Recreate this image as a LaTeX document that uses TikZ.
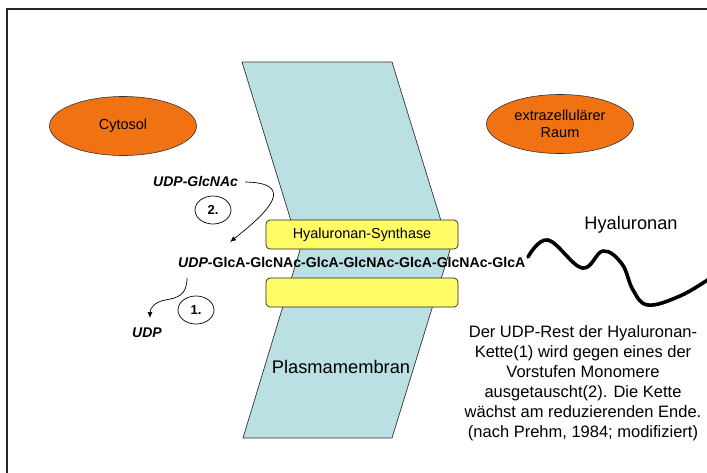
\documentclass[tikz,border=0pt]{standalone}
\usepackage{fontspec}
\setmainfont{Liberation Sans}
\usetikzlibrary{arrows.meta,shapes.geometric}
\definecolor{orangec}{RGB}{240,114,18}
\definecolor{yellowc}{RGB}{255,252,102}
\definecolor{membc}{RGB}{187,224,227}
\tikzset{
  region/.style={ellipse, draw=black!80, line width=0.6pt, fill=orangec, minimum width=147pt, minimum height=59pt, inner sep=0pt, align=center, font=\fontsize{14.5}{16.5}\selectfont},
  synth/.style={draw=black!85, line width=0.7pt, fill=yellowc, rounded corners=4pt, minimum width=192pt, minimum height=29pt, inner sep=0pt, font=\fontsize{14.4}{16}\selectfont},
  num/.style={ellipse, draw, line width=0.7pt, minimum width=36pt, minimum height=28pt, inner sep=0pt, font=\bfseries\fontsize{13}{13}\selectfont},
  bolditem/.style={inner sep=0pt, font=\bfseries\itshape\fontsize{14}{14}\selectfont},
  arr/.style={line width=0.7pt, -{Latex[length=6pt,width=5pt]}},
  wave/.style={line width=3.6pt, line cap=round, line join=round}
}
\begin{document}
\begin{tikzpicture}[x=1pt,y=-1pt]
\useasboundingbox (0,0) rectangle (707,472);
\fill[white] (0,0) rectangle (707,472);
% frame
\draw[line width=2.2pt, black!85] (7,9) rectangle (720,490);
% membrane
\filldraw[fill=membc, draw=black!80, line width=0.7pt] (242,62) -- (392,62) -- (450,250) -- (392,438) -- (243,438) -- (300,250) -- cycle;
% regions
\node[region] (cyt) at (123,126) {Cytosol};
\node[region] (extra) at (560,124) {extrazellulärer\\Raum};
% synthase boxes
\node[synth] (syn) at (362,234.5) {Hyaluronan-Synthase};
\node[synth] (synb) at (362,292.5) {};
% labels
\node[font=\fontsize{18.3}{20}\selectfont, inner sep=0pt] (plasma) at (341,367) {Plasmamembran};
\node[font=\fontsize{18.2}{20}\selectfont, inner sep=0pt] (hyal) at (631,225) {Hyaluronan};
% chain
\node[anchor=base west, inner sep=0pt, font=\bfseries\fontsize{14.1}{14}\selectfont] (chain) at (178,267) {\textit{UDP}-GlcA-GlcNAc-GlcA-GlcNAc-GlcA-GlcNAc-GlcA};
\node[bolditem, anchor=base west] (glcnac) at (153,186) {UDP-GlcNAc};
\node[bolditem, anchor=base west] (udp) at (132,337) {UDP};
% step numbers
\node[num] (n2) at (213,210) {2.};
\node[num] (n1) at (196,310) {1.};
% arrows
\coordinate (t2) at (230,242);
\coordinate (s1) at (187,278);
\coordinate (t1) at (150,318);
\draw[arr] ([xshift=7pt,yshift=-1pt]glcnac.east) .. controls (305,183) and (255,222) .. (t2);
\draw[arr] (s1) .. controls (187,295) and (178,298) .. (165,300) .. controls (155,302) and (150,308) .. (t1);
% hyaluronan chain
\draw[wave] plot[smooth, tension=0.65] coordinates {(528,257) (548,240) (582,268) (603,251) (622,264) (633,290) (648,305) (680,296) (709,279)};
% note
\node[align=center, inner sep=0pt, font=\fontsize{16.5}{20}\selectfont] (note) at (583,383) {Der UDP-Rest der Hyaluronan-\\Kette(1) wird gegen eines der\\Vorstufen Monomere\\ausgetauscht(2). Die Kette\\wächst am reduzierenden Ende.\\(nach Prehm, 1984; modifiziert)};
\end{tikzpicture}
\end{document}
